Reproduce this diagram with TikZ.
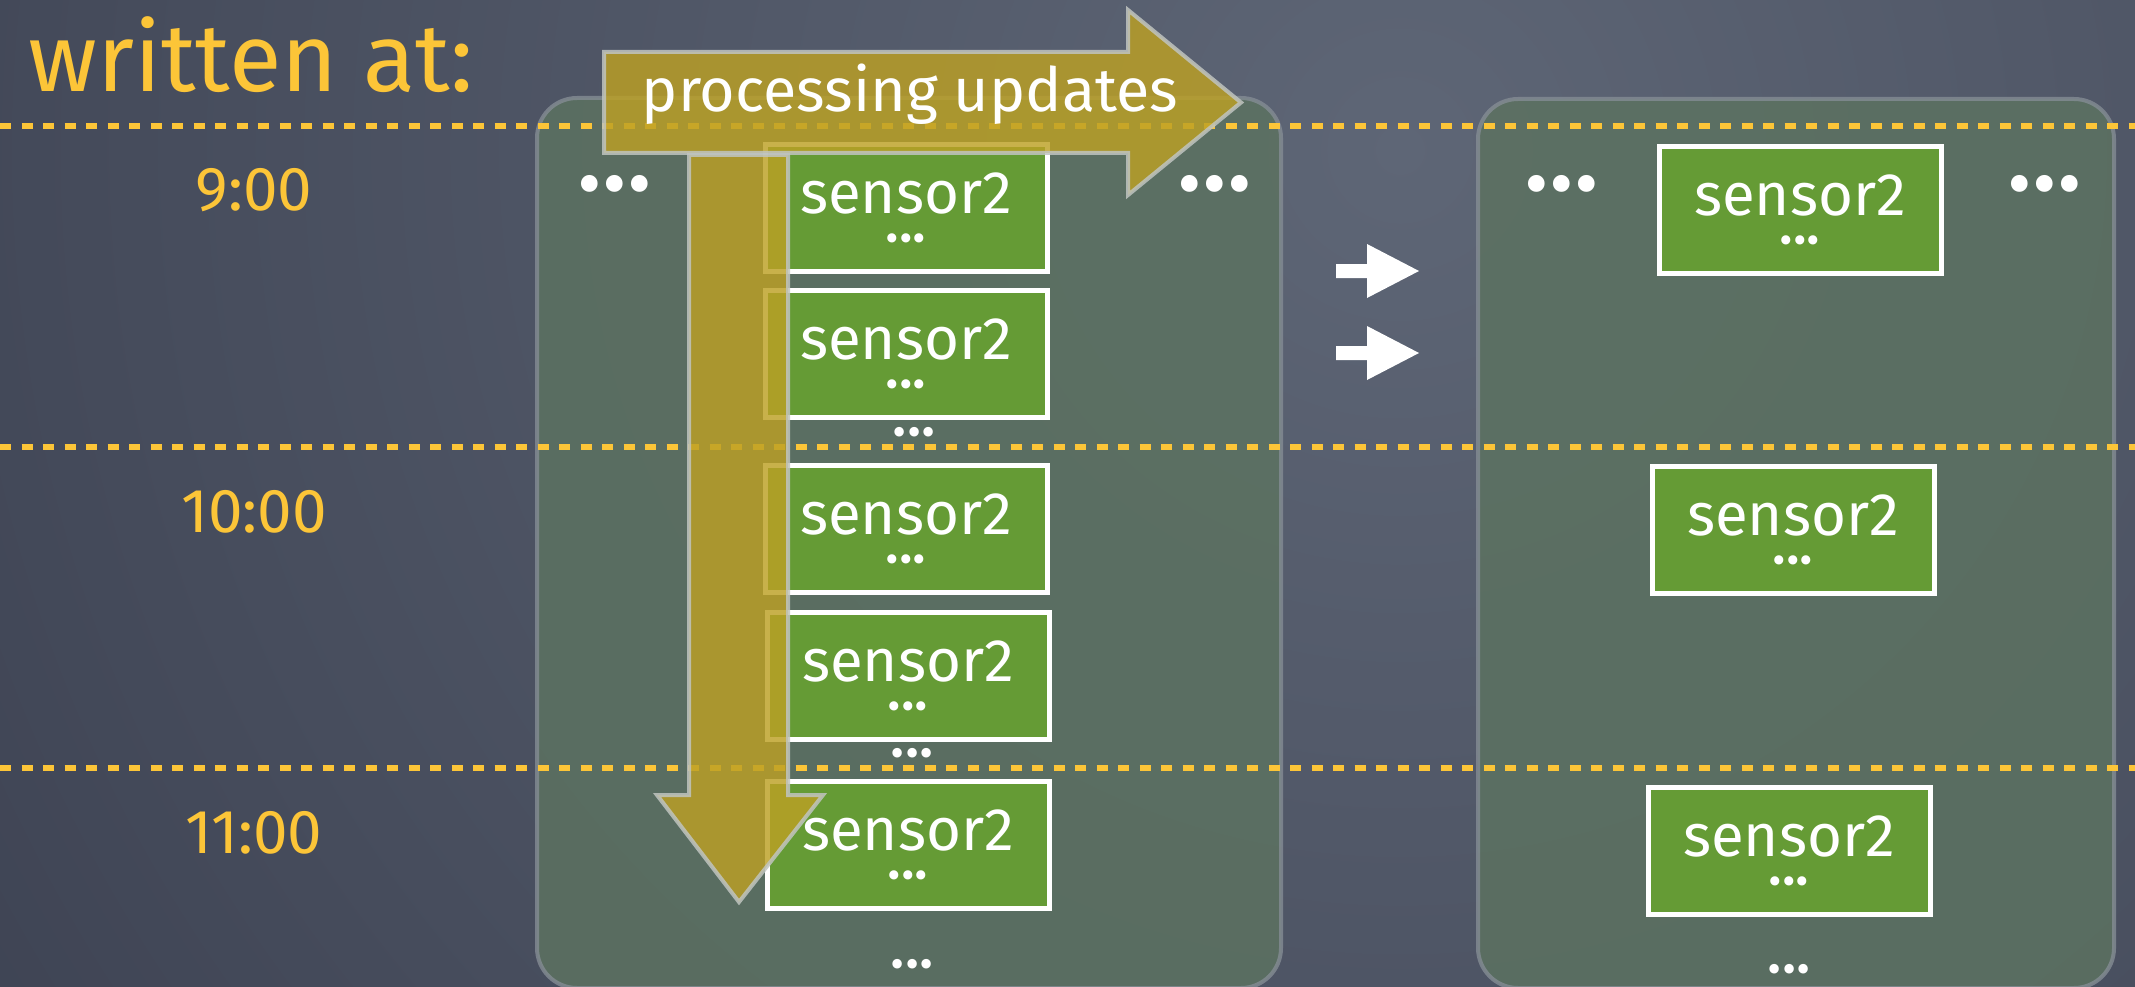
\documentclass[tikz,border=0pt]{standalone}
\usepackage{fontspec}
\setmainfont{Fira Sans}
\newfontfamily\dotfont{Poppins}
\definecolor{board}{RGB}{76,83,100}
\definecolor{boardlight}{RGB}{94,102,118}
\definecolor{boarddark}{RGB}{58,63,79}
\definecolor{chalkyellow}{RGB}{252,197,56}
\definecolor{panelfill}{RGB}{92,114,97}
\definecolor{panelline}{RGB}{132,140,148}
\definecolor{sensorgreen}{RGB}{101,155,53}
\definecolor{mustard}{RGB}{188,160,36}
\definecolor{arrowedge}{RGB}{192,196,192}
% a row of three dots with tightened spacing
\newcommand\dotrow[1]{.\kern#1.\kern#1.}
% second line of a sensor row
\newcommand\rowrest{{\dotfont\fontsize{74}{29}\selectfont\dotrow{-2pt}}}
\begin{document}
\begin{tikzpicture}[x=1pt,y=-1pt,
  panel/.style={fill=panelfill, fill opacity=0.85, draw=panelline, draw opacity=0.8,
    line width=4pt, rounded corners=40pt},
  timeline/.style={draw=chalkyellow, line width=6pt, dash pattern=on 11pt off 10.5pt},
  timelabel/.style={text=chalkyellow, inner sep=0pt, font=\fontsize{62}{72}\selectfont},
  sensor/.style={fill=sensorgreen, draw=white, line width=5pt, minimum width=282pt,
    minimum height=127pt, inner sep=0pt, text=white, align=center,
    font=\fontsize{60}{29}\selectfont},
  more/.style={text=white, inner sep=0pt, font=\dotfont\fontsize{77}{77}\selectfont},
  bigmore/.style={more, font=\dotfont\fontsize{136}{136}\selectfont},
  bigarrow/.style={fill=mustard, fill opacity=0.82, draw=arrowedge, draw opacity=0.85,
    line width=4pt, line join=miter},
  hop/.style={fill=white}
]
% chalkboard
\useasboundingbox (0,0) rectangle (2135,987);
\begin{scope}
  \clip (0,0) rectangle (2135,987);
  \fill[board] (0,0) rectangle (2135,987);
  \shade[inner color=boardlight, outer color=boarddark] (1400,150) circle (1900);
\end{scope}

% the two tables
\draw[panel] (537,98) rectangle (1281,988);
\draw[panel] (1478,99) rectangle (2114,988);

% hour boundaries
\coordinate (h9w) at (0,126);    \coordinate (h9e) at (2135,126);
\coordinate (h10w) at (0,447);   \coordinate (h10e) at (2135,447);
\coordinate (h11w) at (0,768);   \coordinate (h11e) at (2135,768);
\draw[timeline] (h9w) -- (h9e);
\draw[timeline] (h10w) -- (h10e);
\draw[timeline] (h11w) -- (h11e);

% write times
\node[anchor=base west, inner sep=0pt, text=chalkyellow,
      font=\fontsize{96}{110}\selectfont] (written) at (28,92) {written at:};
\node[timelabel] (t9)  at (254,190) {9:00};
\node[timelabel] (t10) at (254,512) {10:00};
\node[timelabel] (t11) at (254,833) {11:00};

% rows of the first table
\node[sensor] (l1) at (906,208) {sensor2\\\rowrest};
\node[sensor] (l2) at (906,354) {sensor2\\\rowrest};
\node[sensor] (l3) at (906,529) {sensor2\\\rowrest};
\node[sensor] (l4) at (908,676) {sensor2\\\rowrest};
\node[sensor] (l5) at (908,845) {sensor2\\\rowrest};
\node[more] (lg1) at (914,432) {\dotrow{-2pt}};
\node[more] (lg2) at (912,753) {\dotrow{-2pt}};
\node[more] (lend) at (912,964) {\dotrow{-2pt}};
\node[bigmore] (lleft) at (615,184) {\dotrow{-3.8pt}};
\node[bigmore] (lright) at (1215,184) {\dotrow{-3.8pt}};

% rows of the second table
\node[sensor] (r1) at (1800,210) {sensor2\\\rowrest};
\node[sensor] (r2) at (1793,530) {sensor2\\\rowrest};
\node[sensor] (r3) at (1789,851) {sensor2\\\rowrest};
\node[more] (rend) at (1789,969) {\dotrow{-2pt}};
\node[bigmore] (rleft) at (1562,184) {\dotrow{-3.8pt}};
\node[bigmore] (rright) at (2045,184) {\dotrow{-3.8pt}};

% copy arrows between the tables
\fill[hop] (1336,264) -- (1367,264) -- (1367,244) -- (1419,271) -- (1367,298)
  -- (1367,278) -- (1336,278) -- cycle;
\fill[hop] (1336,346) -- (1367,346) -- (1367,326) -- (1419,353) -- (1367,380)
  -- (1367,360) -- (1336,360) -- cycle;

% processing direction
\draw[bigarrow] (689,155) -- (788,155) -- (788,795) -- (823,795) -- (739,902)
  -- (657,795) -- (689,795) -- cycle;
\draw[bigarrow] (604,52) -- (1128,52) -- (1128,10) -- (1241,102.5) -- (1128,195)
  -- (1128,153) -- (604,153) -- cycle;
\node[anchor=base, inner sep=0pt, text=white, font=\fontsize{61}{72}\selectfont]
  (proc) at (910,112) {processing updates};
\end{tikzpicture}
\end{document}
